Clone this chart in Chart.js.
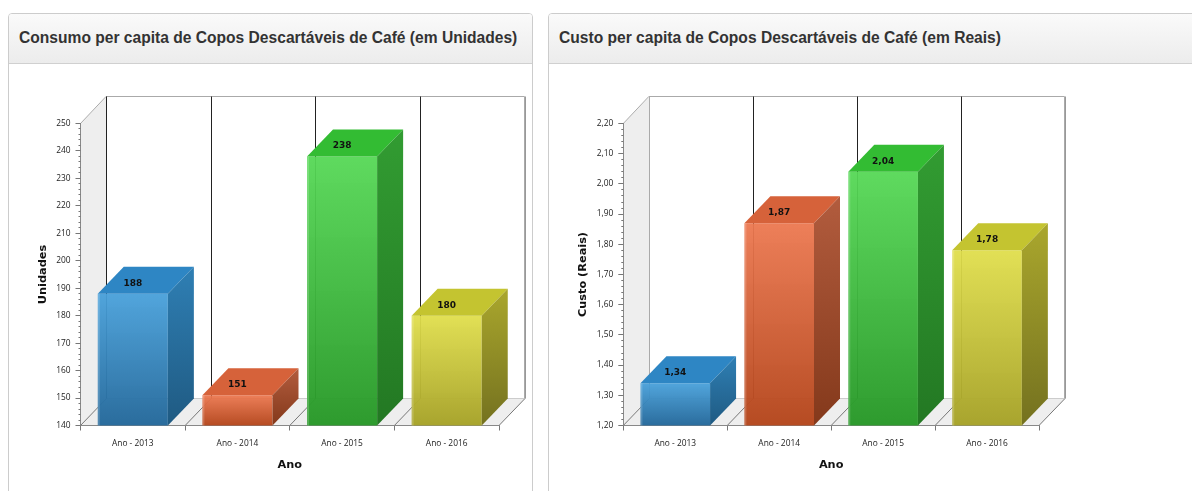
<!DOCTYPE html>
<html><head><meta charset="utf-8">
<script src="https://cdn.jsdelivr.net/npm/chart.js@4/dist/chart.umd.js"></script>
<style>
html,body{margin:0;padding:0;background:#fff;width:1192px;height:491px;overflow:hidden}
.panel{position:absolute;top:13px;height:520px;box-sizing:border-box;border:1px solid #ccc;border-radius:4px;background:#fff}
.head{height:50px;box-sizing:border-box;border-bottom:1px solid #d0d0d0;background:linear-gradient(#fafafa,#ececec);border-radius:3px 3px 0 0;padding:0 0 0 10px;font:bold 15.6px/48px "Liberation Sans",Arial,sans-serif;color:#333;white-space:nowrap}
canvas{position:absolute;display:block;filter:blur(.3px)}
</style></head><body>
<div class="panel" style="left:8px;width:525px"><div class="head">Consumo per capita de Copos Descartáveis de Café (em Unidades)</div></div>
<div class="panel" style="left:548px;width:700px"><div class="head">Custo per capita de Copos Descartáveis de Café (em Reais)</div></div>
<canvas id="c1" width="523" height="427" style="left:9px;top:64px"></canvas>
<canvas id="c2" width="523" height="427" style="left:549px;top:64px"></canvas>
<script>
const categories = ['Ano - 2013','Ano - 2014','Ano - 2015','Ano - 2016'];
const unidades = [188,151,238,180];
const reais = [1.34,1.87,2.04,1.78];
const frontTop = ['rgba(72,160,218,.95)','rgba(236,120,80,.95)','rgba(86,216,86,.95)','rgba(224,222,76,.95)'];
const frontBottom = ['rgba(36,104,154,.97)','rgba(180,70,28,.97)','rgba(40,152,40,.97)','rgba(166,162,40,.97)'];
const topFace = ['#2e86c4','#d6623a','#33bc33','#c4c430'];
const sideTop = ['#2f7fb4','#b25c3e','#329c32','#aaa72d'];
const sideBottom = ['#1f5a82','#84391b','#237823','#74711f'];
const DX = 26, DY = 27;

function bar3d(minorStep, backFirst, fmt){
  return {
    id:'bar3d',
    beforeDraw(chart){
      const {ctx, chartArea:a} = chart;
      ctx.save();
      ctx.fillStyle='#eeeeee';
      ctx.lineWidth=1;
      ctx.beginPath();ctx.moveTo(a.left,a.top);ctx.lineTo(a.left+DX,a.top-DY);ctx.lineTo(a.left+DX,a.bottom-DY);ctx.lineTo(a.left,a.bottom);ctx.closePath();ctx.fill();
      ctx.beginPath();ctx.moveTo(a.left,a.bottom);ctx.lineTo(a.left+DX,a.bottom-DY);ctx.lineTo(a.right+DX,a.bottom-DY);ctx.lineTo(a.right,a.bottom);ctx.closePath();ctx.fill();
      ctx.strokeStyle='#aaa';
      ctx.beginPath();ctx.moveTo(a.left,a.top);ctx.lineTo(a.left+DX-.5,a.top-DY);ctx.lineTo(a.right+DX-.5,a.top-DY);ctx.lineTo(a.right+DX-.5,a.bottom-DY);ctx.stroke();
      ctx.strokeStyle='#ccc';
      ctx.beginPath();ctx.moveTo(a.left+DX,a.bottom-DY);ctx.lineTo(a.right+DX,a.bottom-DY);ctx.stroke();
      const n=categories.length, w=(a.right-a.left)/n;
      for(let i=0;i<=n;i++){
        const x=a.left+i*w;
        ctx.strokeStyle='#777';
        ctx.beginPath();ctx.moveTo(x,a.bottom);ctx.lineTo(x+DX,a.bottom-DY);ctx.stroke();
        const bx=Math.round(x+DX-.5)+.5;
        ctx.strokeStyle= i===n ? '#999' : (i===0 ? backFirst : '#222');
        ctx.beginPath();ctx.moveTo(bx,a.top-DY);ctx.lineTo(bx,a.bottom-DY);ctx.stroke();
      }
      ctx.restore();
    },
    afterDraw(chart){
      const {ctx, chartArea:a} = chart, ys=chart.scales.y;
      ctx.save();
      ctx.strokeStyle='#777';ctx.lineWidth=1;
      for(let v=ys.min;v<=ys.max+minorStep/2;v+=minorStep){
        const y=Math.round(ys.getPixelForValue(v)-.5)+.5;
        ctx.beginPath();ctx.moveTo(a.left-2,y);ctx.lineTo(a.left,y);ctx.stroke();
      }
      chart.getDatasetMeta(0).data.forEach((b,i)=>{
        const l=b.x-b.width/2, r=b.x+b.width/2, t=b.y, bt=a.bottom;
        ctx.fillStyle=topFace[i];
        ctx.beginPath();ctx.moveTo(l,t);ctx.lineTo(l+DX,t-DY);ctx.lineTo(r+DX,t-DY);ctx.lineTo(r,t);ctx.closePath();ctx.fill();
        const g=ctx.createLinearGradient(0,t-DY,0,bt);
        g.addColorStop(0,sideTop[i]);g.addColorStop(1,sideBottom[i]);
        ctx.fillStyle=g;
        ctx.beginPath();ctx.moveTo(r,t);ctx.lineTo(r+DX,t-DY);ctx.lineTo(r+DX,bt-DY);ctx.lineTo(r,bt);ctx.closePath();ctx.fill();
        ctx.fillStyle='rgba(255,255,255,.18)';
        ctx.fillRect(l,t,2,bt-t);
        ctx.fillStyle='#111';
        ctx.font='bold 9px "DejaVu Sans"';
        ctx.textAlign='center';ctx.textBaseline='middle';
        ctx.fillText(fmt(chart.data.datasets[0].data[i]),b.x,t-10.5);
      });
      ctx.restore();
    }
  };
}

function make(id, values, yTitle, min, max, step, minorStep, yWidth, padRight, fmt, backFirst){
  new Chart(document.getElementById(id),{
    type:'bar',
    data:{labels:categories,datasets:[{
      data:values,barPercentage:.67,categoryPercentage:1,borderWidth:0,
      backgroundColor(c){
        const ch=c.chart, i=c.dataIndex, ys=ch.scales.y;
        if(!ys||i===undefined||!ch.chartArea) return frontTop[i||0];
        const g=ch.ctx.createLinearGradient(0,ys.getPixelForValue(values[i]),0,ys.bottom);
        g.addColorStop(0,frontTop[i]);g.addColorStop(1,frontBottom[i]);
        return g;
      }
    }]},
    options:{
      responsive:false,animation:false,events:[],
      layout:{padding:{left:0,right:padRight,top:59.5,bottom:0}},
      plugins:{legend:{display:false},tooltip:{enabled:false},title:{display:false}},
      scales:{
        x:{
          afterFit(s){s.height=65.5;},
          grid:{drawOnChartArea:false,drawTicks:true,tickLength:5,color:'#777'},
          border:{color:'#888'},
          ticks:{font:{family:'Open Sans',size:8.4},color:'#222',padding:8,maxRotation:0},
          title:{display:true,text:'Ano',font:{family:'DejaVu Sans',size:11.3,weight:'bold'},color:'#111',padding:{top:12,bottom:19}}
        },
        y:{
          min,max,
          afterFit(s){s.width=yWidth;},
          grid:{drawOnChartArea:false,drawTicks:true,tickLength:5,color:'#777'},
          border:{color:'#888'},
          ticks:{stepSize:step,font:{family:'Open Sans',size:8.4},color:'#222',padding:5,callback:v=>fmt(v)},
          title:{display:true,text:yTitle,font:{family:'DejaVu Sans',size:11.3,weight:'bold'},color:'#111',padding:{top:27,bottom:0}}
        }
      }
    },
    plugins:[bar3d(minorStep,backFirst,fmt)]
  });
}
make('c1',unidades,'Unidades',140,250,10,2,71.5,33,v=>String(Math.round(v)),'#222');
make('c2',reais,'Custo (Reais)',1.2,2.2,.1,.02,74.3,33,v=>Number(v).toFixed(2).replace('.',','),'#aaa');
</script>
</body></html>
